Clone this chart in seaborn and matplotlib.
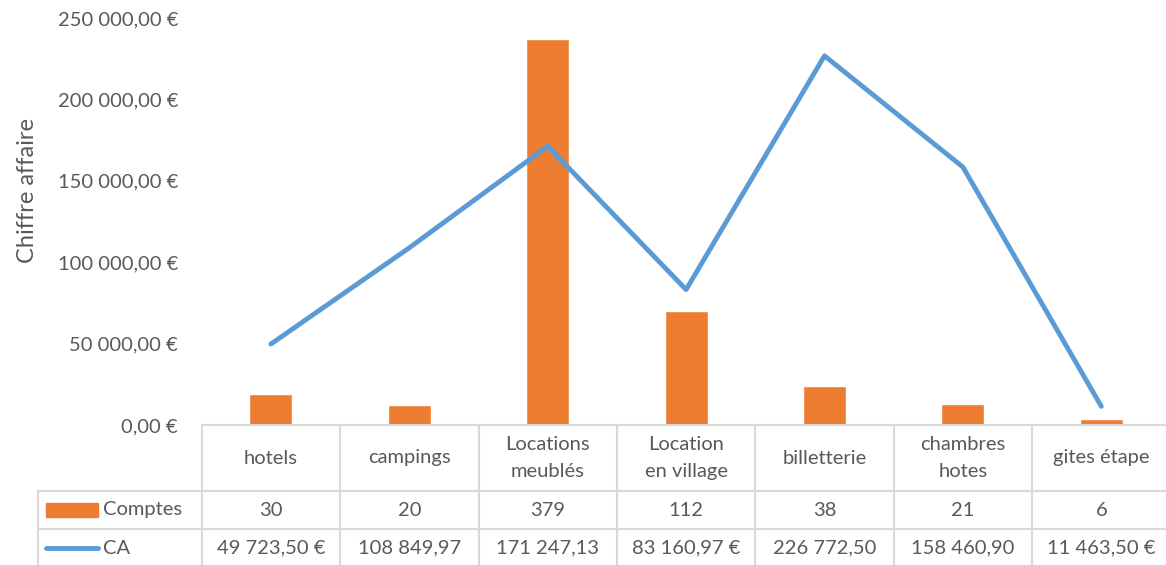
import matplotlib
matplotlib.use("Agg")
import matplotlib.pyplot as plt
from matplotlib.lines import Line2D
from matplotlib.patches import Rectangle
from matplotlib.ticker import FuncFormatter, MultipleLocator
import seaborn as sns
import pandas as pd

# DATA
categories = ["hotels", "campings", "Locations\nmeublés", "Location\nen village",
              "billetterie", "chambres\nhotes", "gites étape"]
comptes = [30, 20, 379, 112, 38, 21, 6]
ca = [49723.50, 108849.97, 171247.13, 83160.97, 226772.50, 158460.90, 11463.50]

ORANGE = "#ED7D31"
BLUE = "#5B9BD5"
TXT = "#595959"
GRID = "#D9D9D9"
W, H = 1166, 565
FS = 14.5


def euro(v):
    s = f"{v:,.2f}".replace(",", " ").replace(".", ",") + " €"
    return s


def cell_euro(v):
    # Excel crops the euro sign when the cell is too narrow
    s = euro(v)
    return s if len(s) <= 11 else s[:-2]


def fx(x):
    return x / W


def fy(y):
    return 1 - y / H


df = pd.DataFrame({"cat": categories, "pos": range(len(categories)),
                   "comptes": comptes, "ca": ca})

sns.set_theme(style="white")
plt.rcParams["font.family"] = ["Lato", "DejaVu Sans"]

fig = plt.figure(figsize=(W / 100, H / 100), dpi=100)
left, right = 201.7, 201.7 + 7 * 138.4
ax = fig.add_axes([fx(left), fy(425), fx(right) - fx(left), fy(18) - fy(425)])
ax2 = ax.twinx()

# BARS ON HIDDEN SECONDARY AXIS
sns.barplot(data=df, x="cat", y="comptes", color=ORANGE, width=0.31,
            saturation=1, ax=ax2)
ax2.set_ylim(0, 400)
ax2.set_yticks([])
ax2.set_ylabel("")

# LINE ON PRIMARY AXIS (drawn on top)
sns.lineplot(data=df, x="pos", y="ca", color=BLUE, linewidth=3.5, ax=ax,
             solid_capstyle="round")
ax.set_zorder(ax2.get_zorder() + 1)
ax.patch.set_visible(False)
ax.set_ylim(0, 250000)
ax.set_xlim(-0.5, len(categories) - 0.5)
ax2.set_xlim(-0.5, len(categories) - 0.5)
ax.yaxis.set_major_locator(MultipleLocator(50000))
ax.yaxis.set_major_formatter(FuncFormatter(lambda v, p: euro(v)))
ax.tick_params(axis="y", length=0, pad=17, labelsize=FS, labelcolor=TXT)
ax.set_xticks([])
ax2.set_xticks([])
ax.set_xlabel("")
ax.set_ylabel("")
ax2.set_xlabel("")
for a in (ax, ax2):
    for s in a.spines.values():
        s.set_visible(False)

fig.text(fx(27), fy(190), "Chiffre affaire", rotation=90, ha="center",
         va="center", fontsize=17, color=TXT)

# DATA TABLE
def hline(y, x0, x1):
    fig.add_artist(Line2D([fx(x0), fx(x1)], [fy(y), fy(y)], color=GRID, lw=1.5,
                          transform=fig.transFigure))


def vline(x, y0, y1):
    fig.add_artist(Line2D([fx(x), fx(x)], [fy(y0), fy(y1)], color=GRID, lw=1.5,
                          transform=fig.transFigure))


hline(424.5, left, right)
hline(490.5, 37.7, right)
hline(529, 37.7, right)
hline(566, 37.7, right)
vline(37.7, 490.5, 566)
for i in range(len(categories) + 1):
    vline(left + i * 138.4, 424.5, 566)

for i, (c, n, v) in enumerate(zip(categories, comptes, ca)):
    cx = fx(left + (i + 0.5) * 138.4)
    fig.text(cx, fy(458), c, ha="center", va="center", fontsize=FS,
             color=TXT, linespacing=1.65)
    fig.text(cx, fy(510), str(n), ha="center", va="center", fontsize=FS,
             color=TXT)
    fig.text(cx, fy(548), cell_euro(v), ha="center", va="center",
             fontsize=FS, color=TXT)

# LEGEND KEYS
fig.add_artist(Rectangle((fx(46), fy(517)), fx(98) - fx(46), fy(503) - fy(517),
                         color=ORANGE, transform=fig.transFigure))
fig.add_artist(Line2D([fx(46), fx(98)], [fy(547.5), fy(547.5)], color=BLUE,
                      lw=3.5, solid_capstyle="round", transform=fig.transFigure))
fig.text(fx(103), fy(510), "Comptes", ha="left", va="center", fontsize=FS,
         color=TXT)
fig.text(fx(103), fy(548), "CA", ha="left", va="center", fontsize=FS,
         color=TXT)

fig.savefig("out.png", dpi=100)
